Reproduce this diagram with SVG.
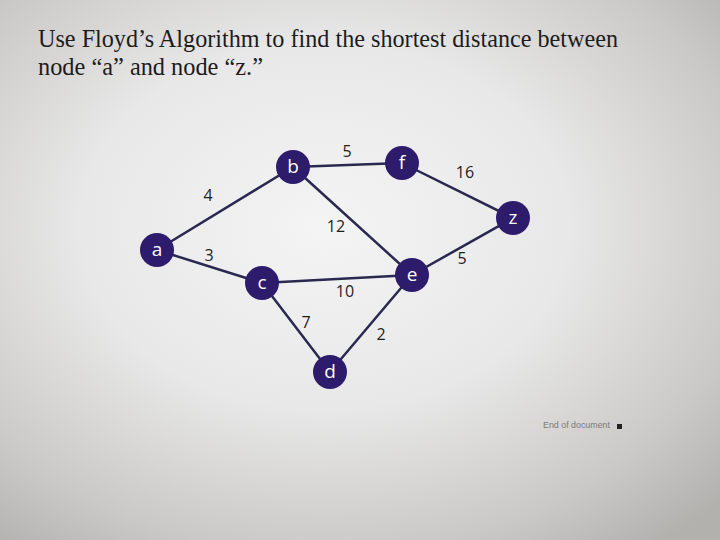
<svg xmlns="http://www.w3.org/2000/svg" width="720" height="540" viewBox="0 0 720 540">
<defs>
<radialGradient id="bg" cx="0.45" cy="0.42" r="0.75">
<stop offset="0" stop-color="#f4f4f4"/>
<stop offset="0.45" stop-color="#e8e8e8"/>
<stop offset="0.8" stop-color="#cbc9c7"/>
<stop offset="1" stop-color="#b3b1ae"/>
</radialGradient>
<style>
.title{font-family:"Liberation Serif","Times New Roman",serif;font-size:25px;fill:#1c1c1c}
.edge{stroke:#2a2850;stroke-width:2.5;fill:none}
.node circle{fill:#2d1b6b}
.node text{font-family:"Open Sans","Liberation Sans",sans-serif;font-size:19px;fill:#ffffff;text-anchor:middle;dominant-baseline:central}
.w{font-family:"Open Sans","Liberation Sans",sans-serif;font-size:16px;fill:#1e1e1e;text-anchor:middle;dominant-baseline:central}
</style>
</defs>
<rect width="720" height="540" fill="url(#bg)"/>
<text class="title" x="38" y="47" textLength="580" lengthAdjust="spacingAndGlyphs">Use Floyd’s Algorithm to find the shortest distance between</text>
<text class="title" x="38" y="75" textLength="225" lengthAdjust="spacingAndGlyphs">node “a” and node “z.”</text>
<g id="connectors">
<line class="edge" x1="157" y1="250" x2="293" y2="167"/>
<line class="edge" x1="157" y1="250" x2="262" y2="283"/>
<line class="edge" x1="293" y1="167" x2="402" y2="163"/>
<line class="edge" x1="293" y1="167" x2="412" y2="275"/>
<line class="edge" x1="402" y1="163" x2="513" y2="218"/>
<line class="edge" x1="262" y1="283" x2="412" y2="275"/>
<line class="edge" x1="262" y1="283" x2="330" y2="372"/>
<line class="edge" x1="412" y1="275" x2="513" y2="218"/>
<line class="edge" x1="412" y1="275" x2="330" y2="372"/>
<text class="w" x="347" y="151">5</text>
<text class="w" x="465" y="172">16</text>
<text class="w" x="208" y="195">4</text>
<text class="w" x="336" y="226">12</text>
<text class="w" x="209" y="255">3</text>
<text class="w" x="462" y="258">5</text>
<text class="w" x="345" y="291">10</text>
<text class="w" x="306" y="322">7</text>
<text class="w" x="381" y="334">2</text>
</g>
<g id="node-a" class="node"><circle cx="157" cy="250" r="17"/><text x="157" y="249">a</text></g>
<g id="node-b" class="node"><circle cx="293" cy="167" r="17"/><text x="293" y="166">b</text></g>
<g id="node-f" class="node"><circle cx="402" cy="163" r="17"/><text x="402" y="162">f</text></g>
<g id="node-z" class="node"><circle cx="513" cy="218" r="17"/><text x="513" y="217">z</text></g>
<g id="node-c" class="node"><circle cx="262" cy="283" r="17"/><text x="262" y="282">c</text></g>
<g id="node-e" class="node"><circle cx="412" cy="275" r="17"/><text x="412" y="274">e</text></g>
<g id="node-d" class="node"><circle cx="330" cy="372" r="17"/><text x="330" y="371">d</text></g>
<text x="543" y="428" font-family="Liberation Sans, sans-serif" font-size="9" fill="#7a7a7a" textLength="67" lengthAdjust="spacingAndGlyphs">End of document</text>
<rect x="617" y="424" width="5" height="5" fill="#222"/>
</svg>
